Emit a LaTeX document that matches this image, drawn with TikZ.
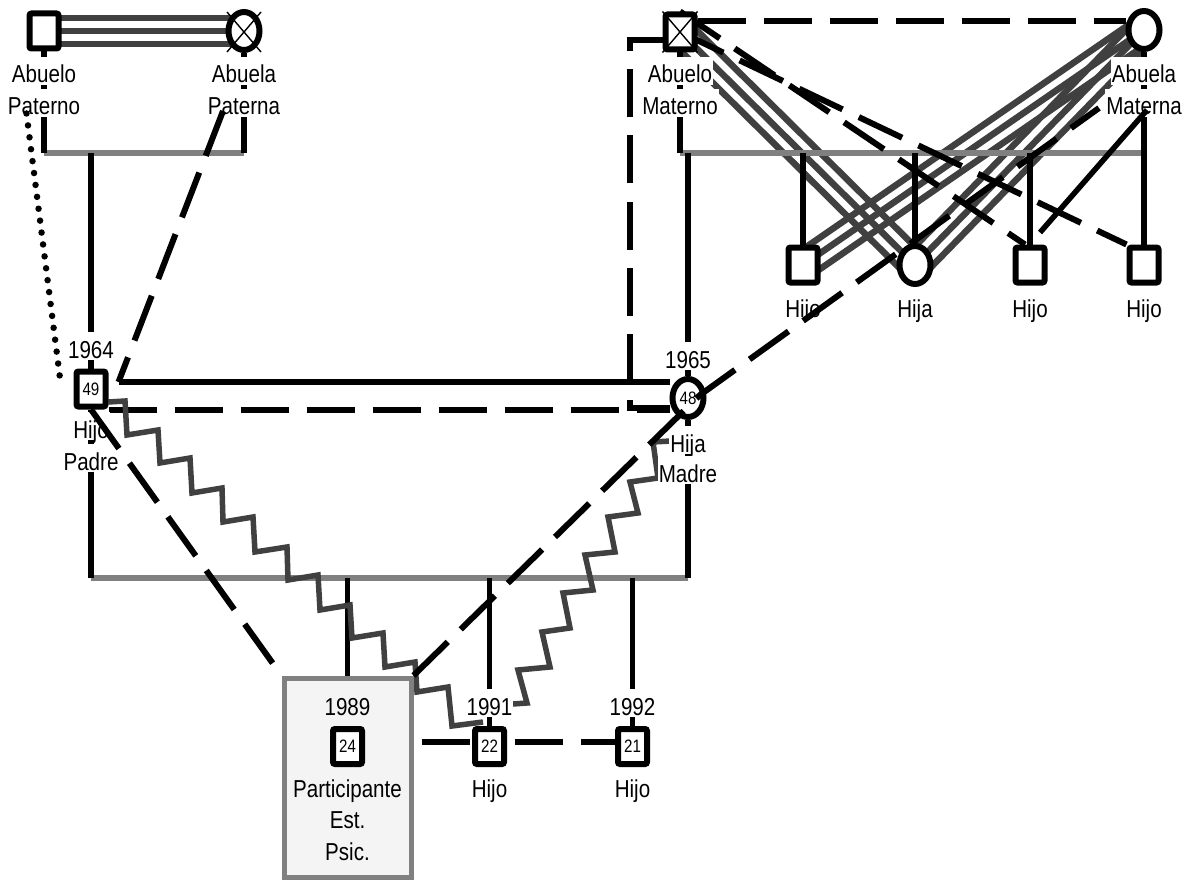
\documentclass[tikz,border=0pt]{standalone}
\usepackage{fontspec}
\setmainfont{Liberation Sans}[FakeStretch=0.84]
\usetikzlibrary{calc,shapes.geometric}
\definecolor{dg}{HTML}{404040}
\definecolor{mg}{HTML}{808080}
\definecolor{bf}{HTML}{F4F4F4}
\pgfdeclarelayer{back}
\pgfdeclarelayer{mid}
\pgfdeclarelayer{front}
\pgfsetlayers{back,mid,main,front}
\newcommand{\lfont}{\fontsize{24.5}{28}\selectfont}
\newcommand{\nfont}{\fontsize{18}{20}\selectfont}
\newcommand{\trip}[2]{%
  \draw[trl] (#1.center) -- (#2.center);
  \draw[trl] ($(#1.center)!13pt!90:(#2.center)$) -- ($(#2.center)!13pt!-90:(#1.center)$);
  \draw[trl] ($(#1.center)!13pt!-90:(#2.center)$) -- ($(#2.center)!13pt!90:(#1.center)$);}
\begin{document}
\begin{tikzpicture}[x=1pt,y=-1pt,
  sq/.style={draw, line width=6pt, rounded corners=2pt, fill=white, minimum width=29pt, minimum height=35pt, inner sep=0pt, font=\nfont},
  ci/.style={ellipse, draw, line width=6pt, fill=white, minimum width=31pt, minimum height=38pt, inner sep=0pt, font=\nfont},
  pbox/.style={draw=mg, fill=bf, line width=5pt, minimum width=127pt, minimum height=199pt, inner sep=0pt},
  lbl/.style={fill=white, inner sep=1pt, text height=25pt, text depth=1pt, anchor=base, font=\lfont},
  txt/.style={inner sep=1pt, anchor=base, font=\lfont},
  kid/.style={line width=5.5pt},
  sib/.style={mg, line width=5.5pt},
  dsh/.style={line width=6pt, dash pattern=on 48pt off 18pt},
  dotl/.style={line width=6.5pt, line cap=round, dash pattern=on 0pt off 12pt},
  zz/.style={dg, line width=5.5pt, line join=miter},
  trl/.style={dg, line width=6.5pt},
  xm/.style={line width=1.4pt}]
\useasboundingbox (0,0) rectangle (1200,880);

% ---------- persons ----------
\node[sq] (gpF) at (44,31) {};
\node[ci] (gpM) at (244,31) {};
\node[sq] (gM) at (680,32) {};
\node[ci] (abM) at (1144,30) {};
\node[sq] (h1) at (803,265) {};
\node[ci] (hM) at (915,265) {};
\node[sq] (h3) at (1030,265) {};
\node[sq] (h4) at (1144,265) {};
\node[sq] (fa) at (91,389) {49};
\node[ci] (mo) at (688,398) {48};
\node[pbox] (pb) at (347.5,777.5) {};
\node[sq] (p) at (347.5,746.5) {24};
\node[sq] (s2) at (489.5,746.5) {22};
\node[sq] (s3) at (632.5,746.5) {21};

% deceased marks
\draw[xm] (gM.north west) -- (gM.south east);
\draw[xm] (gM.north east) -- (gM.south west);
\draw[xm] ($(gpM.center)+(-17,-19)$) -- ($(gpM.center)+(17,21)$);
\draw[xm] ($(gpM.center)+(17,-19)$) -- ($(gpM.center)+(-17,21)$);

% ---------- labels ----------
\node[lbl] (t1) at (44,83) {Abuelo};
\node[lbl] (t2) at (44,115) {Paterno};
\node[lbl] (t3) at (244,83) {Abuela};
\node[lbl] (t4) at (244,115) {Paterna};
\node[lbl] (t5) at (680,83) {Abuelo};
\node[lbl] (t6) at (680,115) {Materno};
\node[lbl] (t7) at (1144,83) {Abuela};
\node[lbl] (t8) at (1144,115) {Materna};
\node[lbl] (t9) at (803,317) {Hijo};
\node[lbl] (t10) at (915,317) {Hija};
\node[lbl] (t11) at (1030,317) {Hijo};
\node[lbl] (t12) at (1144,317) {Hijo};
\node[lbl] (t13) at (91,358) {1964};
\node[lbl] (t14) at (91,438) {Hijo};
\node[lbl] (t15) at (91,470) {Padre};
\node[lbl] (t16) at (688,368) {1965};
\node[lbl] (t17) at (688,452) {Hija};
\node[lbl] (t18) at (688,482) {Madre};
\node[txt] (t19) at (347.5,715) {1989};
\node[txt] (t20) at (347.5,797) {Participante};
\node[txt] (t21) at (347.5,828) {Est.};
\node[txt] (t22) at (347.5,860) {Psic.};
\node[lbl] (t23) at (489.5,715) {1991};
\node[lbl] (t24) at (489.5,797) {Hijo};
\node[lbl] (t25) at (632.5,715) {1992};
\node[lbl] (t26) at (632.5,797) {Hijo};

% ---------- helper coordinates ----------
\coordinate (yP) at (0,153);
\coordinate (yK) at (0,578);
\coordinate (fm) at ($(fa.east)+(10,-7)$);
\coordinate (c1) at (630,408);
\coordinate (j) at (700,395);
\coordinate (abr) at ($(abM.center)+(-45,78)$);

% ---------- back layer: kinship lines ----------
\begin{pgfonlayer}{back}
\fill[white] (0,0) rectangle (1200,880);
\trip{gpF}{gpM}
\trip{gM}{hM}
\trip{abM}{h1}
\trip{abM}{hM}
\draw[sib] (gpF.center |- yP) -- (gpM.center |- yP);
\draw[kid] (gpF.south) -- (gpF.center |- yP);
\draw[kid] (gpM.south) -- (gpM.center |- yP);
\draw[kid] (fa.north |- yP) -- (fa.north);
\draw[sib] (gM.center |- yP) -- (abM.center |- yP);
\draw[kid] (gM.south) -- (gM.center |- yP);
\draw[kid] (abM.south) -- (abM.center |- yP);
\foreach \k in {mo,h1,hM,h3,h4} \draw[kid] (\k.north |- yP) -- (\k.north);
\draw[sib] (fa.center |- yK) -- (mo.center |- yK);
\draw[kid] (fa.south) -- (fa.center |- yK);
\draw[kid] (mo.south) -- (mo.center |- yK);
\draw[kid] (p.center |- yK) -- (pb.north);
\draw[kid] (s2.center |- yK) -- (s2.north);
\draw[kid] (s3.center |- yK) -- (s3.north);
\end{pgfonlayer}

% ---------- mid layer: relations behind symbols ----------
\begin{pgfonlayer}{mid}
\draw[kid] (fm) -- (fm -| mo.west);
\draw[dsh] (fa.south east) -- (fa.south east -| mo.west);
\draw[dsh] (mo.west |- c1) -- (c1) |- ([yshift=-8pt]gM.west);
\draw[dsh] ([yshift=11pt]gM.east) -- ([yshift=11pt]gM.east -| abM.west);
\draw[dsh] (gM.center) -- (h4.north west);
\draw[dsh] (gM.north) -- ($(h3.north)+(-5,0)$);
\draw[dsh, dash phase=58pt] ([yshift=5pt]s2.west -| pb.east) -- ([yshift=5pt]s2.west);
\draw[dsh, dash phase=58pt] ([yshift=5pt]s2.east) -- ([yshift=5pt]s3.west);
\draw[zz] ($(fa.east)+(0,13)$) -- (125,401) -- (127,435) -- (158,430) -- (160,463) -- (190,458) -- (192,493) -- (222,488) -- (223,522) -- (253,517) -- (255,552) -- (287,547) -- (288,580) -- (318,575) -- (320,610) -- (350,605) -- (352,638) -- (383,633) -- (385,667) -- (415,662) -- (417,692) -- (448,687) -- (452,726) -- ($(s2.north west)+(11,-4)$);
\draw[zz] ($(mo.south)+(0,20)$) -- (653,442) -- (658,478) -- (630,482) -- (638,513) -- (608,517) -- (615,552) -- (585,555) -- (593,590) -- (563,593) -- (570,628) -- (542,632) -- (550,667) -- (518,670) -- (527,703) -- ($(s2.north east)+(6,-22)$);
\end{pgfonlayer}

% ---------- front layer ----------
\begin{pgfonlayer}{front}
\draw[dotl] ($(gpF.south west)+(0,62)$) -- ($(fa.west)+(-13,-7)$);
\draw[dsh] ($(gpM.south)+(-21,58)$) -- (fm);
\draw[dsh] (fa.south) -- (pb.north west);
\draw[dsh] (pb.north east) -- (j) -- (abr);
\draw[kid] ($(abM.center)+(3,80)$) -- ($(h3.north)+(10,-12)$);
\end{pgfonlayer}
\end{tikzpicture}
\end{document}
